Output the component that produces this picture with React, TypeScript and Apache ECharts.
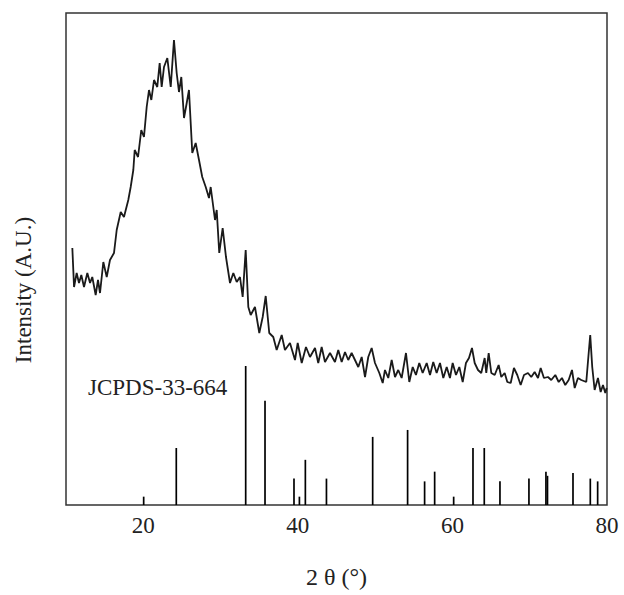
import React, { useEffect, useRef } from "react";
import * as echarts from "echarts";

// Measured XRD scan (2θ in degrees, intensity in arbitrary units)
const scanTwoTheta = [
  10.82, 11.04, 11.38, 11.68, 11.98, 12.33, 12.76, 13.11, 13.40, 13.84,
  14.14, 14.40, 14.83, 15.27, 15.69, 16.21, 16.56, 17.08, 17.50, 18.06,
  18.37, 18.71, 18.89, 19.32, 19.74, 20.09, 20.44, 20.74, 21.04, 21.39,
  21.81, 22.12, 22.38, 22.68, 23.11, 23.55, 23.97, 24.32, 24.62, 24.92,
  25.27, 25.62, 25.91, 26.34, 26.78, 27.21, 27.63, 28.08, 28.50, 28.72,
  29.28, 29.50, 29.83, 30.27, 30.70, 31.22, 31.65, 32.09, 32.51, 32.86,
  33.25, 33.59, 33.90, 34.45, 35.01, 35.45, 35.84, 36.30, 36.82, 37.26,
  37.91, 38.33, 38.98, 39.63, 39.98, 40.50, 41.05, 41.57, 42.22, 42.64,
  43.08, 43.51, 44.16, 44.80, 45.23, 45.67, 46.10, 46.52, 46.96, 47.39,
  47.82, 48.26, 48.69, 49.11, 49.55, 49.98, 50.54, 50.98, 51.27, 51.70,
  52.14, 52.57, 52.99, 53.43, 53.99, 54.42, 54.86, 55.28, 55.71, 56.15,
  56.67, 57.10, 57.52, 57.96, 58.39, 58.82, 59.26, 59.68, 60.03, 60.46,
  60.89, 61.33, 61.75, 62.14, 62.53, 62.88, 63.31, 63.73, 64.17, 64.38,
  64.69, 65.03, 65.47, 65.98, 66.32, 66.76, 67.10, 67.54, 67.96, 68.39,
  68.83, 69.26, 69.77, 70.20, 70.64, 71.07, 71.42, 71.84, 72.36, 72.79,
  73.31, 73.75, 74.17, 74.60, 75.04, 75.47, 75.82, 76.24, 76.67, 77.32,
  77.63, 77.83, 78.09, 78.40, 78.83, 79.18, 79.48, 79.78, 79.96,
];
const scanIntensity = [
  257, 218, 232, 222, 230, 218, 232, 222, 228, 210,
  225, 212, 243, 228, 245, 252, 275, 293, 288, 305,
  318, 335, 355, 348, 375, 368, 398, 415, 405, 425,
  418, 442, 418, 438, 447, 418, 465, 432, 413, 428,
  387, 402, 415, 352, 362, 345, 328, 318, 307, 318,
  285, 295, 252, 277, 248, 222, 232, 223, 228, 208,
  255, 198, 190, 198, 172, 188, 209, 172, 168, 155,
  170, 155, 162, 145, 162, 142, 158, 148, 157, 142,
  158, 143, 152, 143, 155, 143, 153, 145, 152, 145,
  138, 148, 128, 148, 157, 142, 132, 122, 135, 127,
  145, 128, 135, 127, 152, 123, 138, 130, 142, 132,
  142, 130, 143, 132, 142, 127, 138, 127, 142, 130,
  138, 123, 142, 147, 157, 142, 135, 132, 147, 132,
  152, 132, 130, 140, 128, 132, 123, 122, 137, 130,
  120, 130, 132, 128, 133, 127, 137, 127, 128, 125,
  130, 123, 127, 120, 125, 135, 117, 127, 125, 123,
  152, 170, 138, 115, 127, 113, 120, 112, 117,
];

// Reference pattern JCPDS 33-664 (2θ, relative intensity %)
const refTwoTheta = [
  20.05, 24.27, 33.25, 35.75, 39.5, 40.2, 40.97, 43.7, 49.68, 54.2, 56.4,
  57.7, 60.16, 62.66, 64.12, 66.15, 69.9, 72.1, 72.3, 75.6, 77.84, 78.79,
];
const refIntensity = [
  6, 41, 100, 75, 19, 6, 32.5, 19, 49, 54, 17,
  24, 6, 41, 41, 17, 19, 24, 21, 23, 19, 17,
];

const xTickLabels = [20, 40, 60, 80];
const refLabel = "JCPDS-33-664";

const FONT = '"Liberation Serif", "Times New Roman", serif';
const TEXT = "#222";

export default function App() {
  const ref = useRef<HTMLDivElement>(null);

  useEffect(() => {
    if (!ref.current) return;
    const chart = echarts.init(ref.current, null, { renderer: "svg" });
    const scan = scanTwoTheta.map((t, i) => [t, scanIntensity[i]]);
    const sticks = refTwoTheta.map((t, i) => [t, refIntensity[i]]);

    chart.setOption({
      animation: false,
      backgroundColor: "#fff",
      grid: {
        left: 66,
        right: 17,
        top: 13,
        bottom: 90,
        show: true,
        borderColor: "#333",
        borderWidth: 1.5,
        backgroundColor: "transparent",
      },
      xAxis: {
        type: "value",
        min: 10,
        max: 80,
        interval: 10,
        name: "2 θ (°)",
        nameLocation: "middle",
        nameGap: 60,
        nameTextStyle: { fontFamily: FONT, fontSize: 24, color: TEXT },
        axisLine: { show: false },
        axisTick: { show: false },
        splitLine: { show: false },
        axisLabel: {
          fontFamily: FONT,
          fontSize: 23,
          color: TEXT,
          margin: 9,
          formatter: (v: number) => (xTickLabels.includes(v) ? String(v) : ""),
        },
      },
      yAxis: [
        {
          type: "value",
          min: 0,
          max: 354,
          show: false,
          splitLine: { show: false },
        },
        {
          type: "value",
          min: 0,
          max: 492,
          show: false,
          splitLine: { show: false },
        },
      ],
      graphic: [
        {
          type: "text",
          x: 23,
          y: 290,
          rotation: Math.PI / 2,
          style: {
            text: "Intensity (A.U.)",
            font: `23px ${FONT}`,
            fill: TEXT,
            align: "center",
            verticalAlign: "middle",
          },
        },
        {
          type: "text",
          x: 88,
          y: 387,
          style: {
            text: refLabel,
            font: `23px ${FONT}`,
            fill: TEXT,
            align: "left",
            verticalAlign: "middle",
          },
        },
      ],
      series: [
        {
          type: "line",
          name: "XRD",
          data: scan,
          yAxisIndex: 1,
          showSymbol: false,
          lineStyle: { color: "#1a1a1a", width: 1.8 },
        },
        {
          type: "custom",
          name: refLabel,
          data: sticks,
          yAxisIndex: 0,
          encode: { x: 0, y: 1 },
          renderItem: (params: any, api: any) => {
            const x = api.value(0);
            const h = api.value(1);
            const p0 = api.coord([x, 0]);
            const p1 = api.coord([x, h]);
            return {
              type: "line",
              shape: { x1: p0[0], y1: p0[1], x2: p1[0], y2: p1[1] },
              style: { stroke: "#000", lineWidth: 1.7 },
            };
          },
        },
      ],
    });

    return () => chart.dispose();
  }, []);

  return (
    <div
      ref={ref}
      style={{ position: "fixed", left: 0, top: 0, width: 624, height: 595 }}
    />
  );
}
